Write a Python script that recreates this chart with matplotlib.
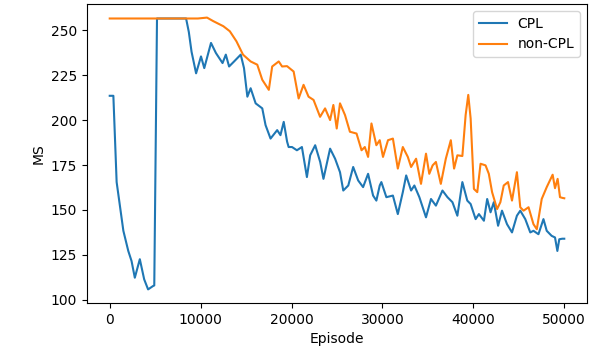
import matplotlib
matplotlib.use("Agg")
import matplotlib.pyplot as plt
from matplotlib.ticker import MultipleLocator

# CPL curve (episode, MS)
cpl_ep = [0, 400, 760, 1500, 2040, 2400, 2760, 3310, 3790, 4220, 4770, 4900,
          5200, 8400, 8700, 9000, 9500, 10040, 10400, 11140, 11680, 12410, 12770,
          13130, 13680, 14410, 14770, 15140, 15500, 16050, 16780, 17140, 17690,
          18420, 18780, 19140, 19510, 19680, 20050, 20590, 21140, 21690, 22050,
          22600, 23150, 23510, 24240, 24790, 25330, 25690, 26240, 26780, 27330,
          27870, 28420, 28970, 29330, 29700, 29880, 30430, 31150, 31690, 32240,
          32610, 33150, 33510, 34060, 34790, 35340, 35880, 36600, 37150, 37700,
          38240, 38790, 39330, 39700, 40250, 40610, 41160, 41520, 41890, 42250,
          42720, 43150, 43700, 44250, 44790, 45160, 45710, 46260, 46610, 47160,
          47710, 48070, 48610, 48980, 49240, 49450, 49780, 50000]
cpl_ms = [213.5, 213.5, 165.5, 138.4, 127.2, 121.6, 112.3, 122.6, 111.4, 105.8, 107.7, 108.0,
          256.5, 256.5, 249.0, 238.0, 226.0, 235.4, 228.9, 242.9, 237.3, 231.7, 236.4,
          229.8, 232.6, 236.4, 228.9, 213.0, 217.7, 209.3, 206.5, 197.2, 189.7,
          194.4, 191.6, 199.0, 188.0, 185.0, 185.0, 183.2, 185.0, 168.3, 180.4,
          186.0, 176.7, 167.3, 184.1, 178.5, 171.0, 160.8, 163.6, 173.9, 166.4,
          162.7, 170.1, 158.0, 155.2, 163.6, 165.5, 157.1, 158.0, 147.7, 159.9,
          169.2, 160.8, 163.6, 157.1, 145.9, 156.1, 152.4, 160.8, 157.1, 154.3,
          146.8, 165.5, 155.2, 153.3, 144.9, 147.7, 144.0, 156.1, 148.7, 154.3,
          141.2, 149.6, 142.1, 137.5, 146.8, 149.6, 144.9, 137.5, 138.4, 136.5,
          144.9, 138.4, 135.6, 134.7, 127.2, 133.7, 134.0, 134.0]

# non-CPL curve (episode, MS)
noncpl_ep = [0, 9700, 10700, 11400, 12500, 13210, 13940, 14660, 15500, 16230, 16780,
             17500, 17870, 18590, 18960, 19500, 20230, 20780, 21320, 21870, 22420,
             23140, 23690, 24240, 24600, 24970, 25330, 25880, 26420, 27150, 27700,
             28060, 28420, 28790, 29330, 29700, 30060, 30610, 31150, 31690, 32240,
             32790, 33150, 33700, 34240, 34790, 35150, 35520, 35880, 36420, 36970,
             37520, 37880, 38240, 38790, 39150, 39440, 39700, 40060, 40430, 40790,
             41340, 41700, 42060, 42610, 42970, 43340, 43810, 44250, 44790, 45160,
             45520, 46070, 46610, 46980, 47520, 48070, 48720, 48980, 49270, 49530,
             49800, 50000]
noncpl_ms = [256.5, 256.5, 257.0, 255.0, 252.2, 249.4, 243.8, 236.4, 232.6, 230.8, 222.4,
             216.8, 229.8, 232.6, 229.8, 230.0, 227.0, 212.0, 219.6, 213.0, 211.2,
             201.8, 206.5, 200.0, 208.4, 195.3, 209.3, 202.8, 193.5, 192.5, 183.2,
             185.0, 179.5, 198.1, 186.0, 188.8, 179.5, 188.8, 189.7, 173.0, 185.0,
             179.5, 173.9, 178.5, 164.5, 181.3, 170.1, 174.8, 176.7, 164.5, 178.5,
             188.8, 173.0, 180.4, 180.0, 202.8, 214.0, 200.9, 161.7, 159.9, 175.7,
             174.8, 170.1, 159.9, 150.5, 154.3, 163.6, 165.5, 155.2, 171.0, 151.5,
             149.6, 151.5, 142.1, 139.3, 156.1, 162.7, 169.6, 162.1, 167.3, 157.1,
             156.7, 156.5]

fig, ax = plt.subplots(figsize=(6.03, 3.6), dpi=100)
fig.subplots_adjust(left=87 / 603, right=587 / 603, top=1 - 4 / 360, bottom=1 - 303 / 360)

ax.plot(cpl_ep, cpl_ms, label="CPL")
ax.plot(noncpl_ep, noncpl_ms, label="non-CPL")
ax.yaxis.set_major_locator(MultipleLocator(25))
ax.set_xlabel("Episode")
ax.set_ylabel("MS")
ax.legend(loc="upper right")

fig.savefig("out.png", dpi=100)
